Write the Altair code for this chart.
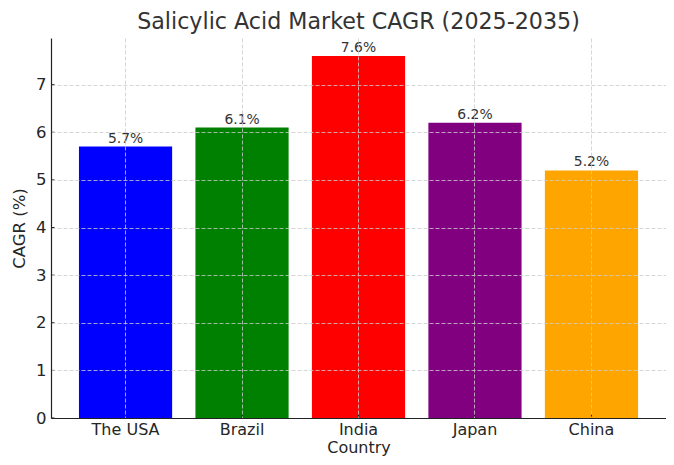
import altair as alt
import pandas as pd

countries = ["The USA", "Brazil", "India", "Japan", "China"]
cagr = [5.7, 6.1, 7.6, 6.2, 5.2]
colors = ["#0000ff", "#008000", "#ff0000", "#800080", "#ffa500"]
yticks = [0, 1, 2, 3, 4, 5, 6, 7]

df = pd.DataFrame({"Country": countries, "CAGR": cagr, "color": colors})
df["label"] = [f"{v:.1f}%" for v in cagr]
tdf = pd.DataFrame({"t": yticks})

W, H = 615, 380
FONT = "DejaVu Sans"

xscale = alt.Scale(domain=countries, paddingInner=0.2, paddingOuter=0.24)
yscale = alt.Scale(domain=[0, 7.98], nice=False, zero=True)

xaxis = alt.Axis(
    title="Country", labelAngle=0, grid=True, gridDash=[4, 2], gridColor="#cccccc",
    gridWidth=0.8, bandPosition=0.5, ticks=False, domainColor="#222222", domainWidth=1.2,
    labelFontSize=16, labelColor="#262626", labelPadding=3, titleFontSize=16,
    titleFontWeight="normal", titleColor="#262626", titlePadding=2, zindex=1,
    labelFont=FONT, titleFont=FONT,
)
yaxis = alt.Axis(
    title="CAGR (%)", values=yticks, grid=True, gridDash=[4, 2], gridColor="#cccccc",
    gridWidth=0.8, ticks=False, domainColor="#222222", domainWidth=1.2,
    labelFontSize=16.5, labelColor="#262626", labelPadding=5, titleFontSize=16.5,
    titleFontWeight="normal", titleColor="#262626", titlePadding=8, zindex=1,
    labelFont=FONT, titleFont=FONT,
)

base = alt.Chart(df)
bars = base.mark_bar().encode(
    x=alt.X("Country:N", scale=xscale, axis=xaxis, sort=countries),
    y=alt.Y("CAGR:Q", scale=yscale, axis=yaxis),
    color=alt.Color("color:N", scale=None),
)
text = base.mark_text(baseline="bottom", dy=-1, fontSize=13.9, color="#333333", font=FONT).encode(
    x=alt.X("Country:N", scale=xscale, sort=countries),
    y=alt.Y("CAGR:Q", scale=yscale),
    text="label:N",
)
xticks = base.mark_rule(color="#222222", strokeWidth=1).encode(
    x=alt.X("Country:N", scale=xscale, sort=countries),
    y=alt.value(H),
    y2=alt.value(H - 3.5),
)
yt = alt.Chart(tdf).mark_rule(color="#222222", strokeWidth=1).encode(
    y=alt.Y("t:Q", scale=yscale),
    x=alt.value(0),
    x2=alt.value(3.5),
)

chart = alt.layer(bars, text, xticks, yt).properties(
    width=W, height=H,
    title=alt.TitleParams("Salicylic Acid Market CAGR (2025-2035)", fontSize=22.2,
                          fontWeight="normal", color="#333333", font=FONT, offset=5),
    autosize=alt.AutoSizeParams(type="none"),
    padding={"left": 43, "top": 30, "right": 0, "bottom": 39},
).configure_view(stroke=None)

chart.save("out.html", embed_options={"renderer": "svg", "actions": False})
